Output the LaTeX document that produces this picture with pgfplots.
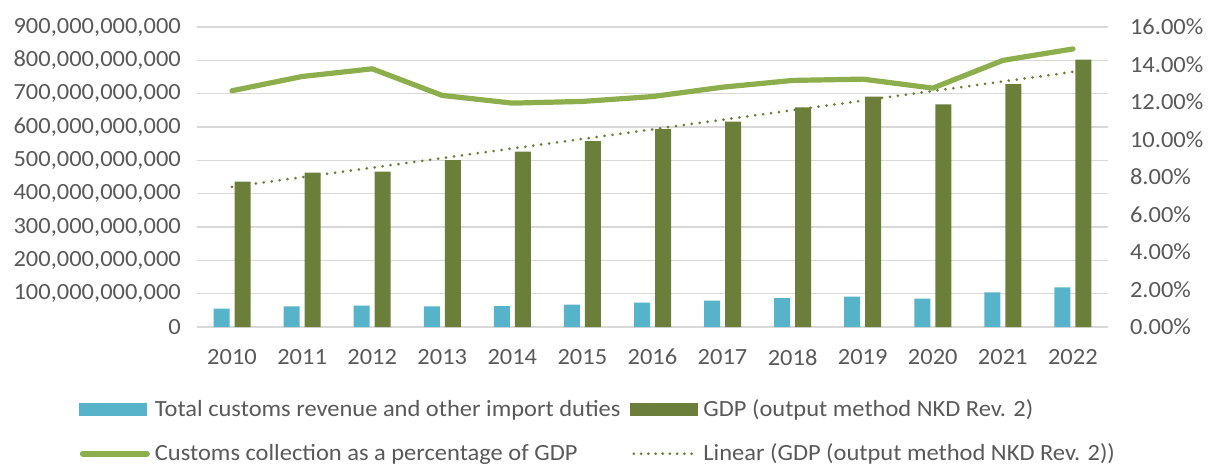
\documentclass[border=0pt]{standalone}
\usepackage{fontspec}
\setmainfont{Carlito}[FakeStretch=1.055]
\usepackage{pgfplots}
\pgfplotsset{compat=1.18}
\definecolor{custblue}{HTML}{56B3CA}
\definecolor{gdpgreen}{HTML}{6B7F3A}
\definecolor{pctgreen}{HTML}{8CAE4C}
\definecolor{gridgrey}{HTML}{D9D9D9}
\definecolor{txtgrey}{HTML}{595959}

% customs revenue and GDP in billions, share in percent
\pgfplotstableread{
year customs gdp   pct
2010  55.0  436  12.60
2011  61.9  463  13.36
2012  64.2  466  13.77
2013  61.9  501  12.35
2014  62.8  526  11.94
2015  67.1  558  12.03
2016  73.0  594  12.29
2017  78.8  616  12.79
2018  86.7  659  13.15
2019  91.4  691  13.22
2020  85.1  668  12.74
2021 103.7  729  14.22
2022 118.9  802  14.83
}\datatable

\begin{document}
\begin{tikzpicture}[font=\fontsize{11.6bp}{14bp}\selectfont]
\useasboundingbox (0,0) rectangle (607.5bp,233bp);
\pgfplotsset{
  common/.style={
    at={(98.5bp,69.5bp)}, anchor=south west,
    scale only axis, width=455.5bp, height=150bp,
    xmin=2009.5, xmax=2022.5,
    axis line style={draw=none}, major tick length=0pt,
    tick label style={text=txtgrey},
    /pgf/number format/assume math mode=true,
  }
}
\begin{axis}[common,
  ymin=0, ymax=900,
  xtick={2010,...,2022},
  xticklabel style={/pgf/number format/1000 sep=, yshift=-7.6bp},
  ytick={0,100,...,900},
  yticklabels={0,{100,000,000,000},{200,000,000,000},{300,000,000,000},{400,000,000,000},{500,000,000,000},{600,000,000,000},{700,000,000,000},{800,000,000,000},{900,000,000,000}},
  yticklabel style={xshift=-4.6bp},
  ymajorgrids, grid style={gridgrey, line width=0.75bp},
]
\addplot[ybar, bar width=8bp, bar shift=-5.25bp, fill=custblue, draw=none] table[x=year, y=customs] {\datatable};
\addplot[ybar, bar width=8bp, bar shift=5.25bp, fill=gdpgreen, draw=none] table[x=year, y=gdp] {\datatable};
% linear trend of GDP
\addplot[sharp plot, gdpgreen, line width=1.5bp, dash pattern=on 0pt off 4bp, line cap=round] coordinates {(2010,420.6) (2022,765.4)};
\end{axis}

\begin{axis}[common,
  ymin=0, ymax=16, ytick={0,2,...,16},
  axis x line=none, axis y line*=right,
  yticklabel={\pgfmathprintnumber[fixed,fixed zerofill,precision=2,assume math mode=true]{\tick}\%},
  yticklabel style={xshift=7.5bp},
  legend columns=2,
  legend cell align=left,
  legend style={at={(rel axis cs:-0.136,-0.218)}, anchor=north west, draw=none, fill=none,
    text=txtgrey, row sep=9bp,
    nodes={inner sep=1.5bp},
    /tikz/every odd column/.append style={column sep=1bp},
    /tikz/every even column/.append style={column sep=3bp}},
]
\addlegendimage{legend image code/.code={\fill[custblue] (0bp,-3bp) rectangle (33.5bp,3bp);}}
\addlegendentry{Total customs revenue and other import duties}
\addlegendimage{legend image code/.code={\fill[gdpgreen] (0bp,-3bp) rectangle (33.5bp,3bp);}}
\addlegendentry{GDP (output method NKD Rev. 2)}
\addplot[pctgreen, line width=2.6bp, line join=round, line cap=round,
  legend image code/.code={\draw[pctgreen, line width=3bp, line cap=round] (1.5bp,0bp) -- (33.5bp,0bp);}]
  table[x=year, y=pct] {\datatable};
\addlegendentry{Customs collection as a percentage of GDP}
\addlegendimage{legend image code/.code={\draw[gdpgreen, line width=1.5bp, dash pattern=on 0pt off 3.6bp, line cap=round] (2bp,0bp) -- (33.5bp,0bp);}}
\addlegendentry{Linear (GDP (output method NKD Rev. 2))}
\end{axis}
\end{tikzpicture}
\end{document}
